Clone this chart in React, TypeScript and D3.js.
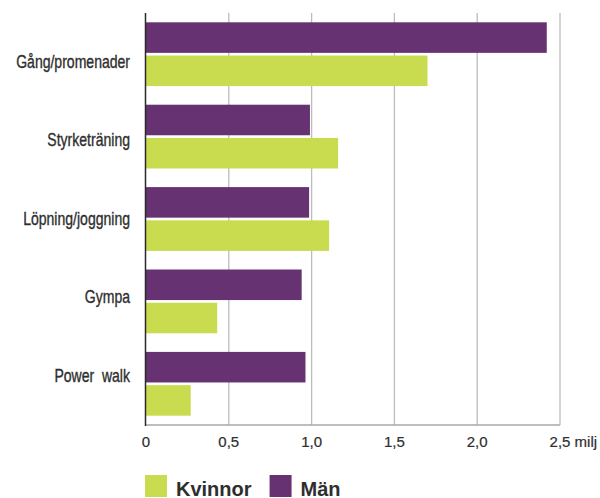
import React, { useEffect, useRef } from 'react';
import * as d3 from 'd3';

// Aktiviteter, miljoner utövare per kön
const categories = ['Gång/promenader', 'Styrketräning', 'Löpning/joggning', 'Gympa', 'Power  walk'];
const man = [2.42, 0.99, 0.985, 0.94, 0.963];
const kvinnor = [1.7, 1.16, 1.106, 0.43, 0.27];
const xTicks = [0, 0.5, 1.0, 1.5, 2.0, 2.5];
const unitLabel = 'milj';
const legendItems = ['Kvinnor', 'Män'];

const WIDTH = 600;
const HEIGHT = 498;
const LEFT = 146;
const RIGHT = 560;
const TOP = 13;
const BOTTOM = 425;

const PURPLE = '#663271';
const GREEN = '#c9dc4f';
const TEXT = '#2e2e2e';

export default function App() {
  const svgRef = useRef<SVGSVGElement>(null);

  useEffect(() => {
    const svg = d3.select(svgRef.current);
    svg.selectAll('*').remove();
    svg.append('rect').attr('width', WIDTH).attr('height', HEIGHT).attr('fill', 'white');

    const x = d3.scaleLinear().domain([0, 2.5]).range([LEFT, RIGHT]);
    const y = d3.scaleBand<string>().domain(categories).range([TOP, BOTTOM]);
    const inner = d3
      .scaleBand<string>()
      .domain(['Män', 'Kvinnor'])
      .range([0, y.bandwidth()])
      .paddingInner(0.081)
      .paddingOuter(0.28);

    // gridlines
    svg
      .append('g')
      .selectAll('line')
      .data(xTicks.slice(1))
      .enter()
      .append('line')
      .attr('x1', (d) => x(d))
      .attr('x2', (d) => x(d))
      .attr('y1', TOP)
      .attr('y2', BOTTOM)
      .attr('stroke', '#bcbcbc')
      .attr('stroke-width', 1.3);

    const rows = categories.map((c, i) => ({ c, man: man[i], kvinnor: kvinnor[i] }));

    const g = svg.append('g');
    g.selectAll('rect.man')
      .data(rows)
      .enter()
      .append('rect')
      .attr('class', 'man')
      .attr('x', x(0))
      .attr('y', (d) => (y(d.c) ?? 0) + (inner('Män') ?? 0))
      .attr('width', (d) => x(d.man) - x(0))
      .attr('height', inner.bandwidth())
      .attr('fill', PURPLE);
    g.selectAll('rect.kv')
      .data(rows)
      .enter()
      .append('rect')
      .attr('class', 'kv')
      .attr('x', x(0))
      .attr('y', (d) => (y(d.c) ?? 0) + (inner('Kvinnor') ?? 0))
      .attr('width', (d) => x(d.kvinnor) - x(0))
      .attr('height', inner.bandwidth())
      .attr('fill', GREEN);

    // bottom axis line
    svg
      .append('line')
      .attr('x1', LEFT)
      .attr('x2', RIGHT)
      .attr('y1', BOTTOM)
      .attr('y2', BOTTOM)
      .attr('stroke', '#a8a8a8')
      .attr('stroke-width', 1.5);
    // left axis line
    svg
      .append('line')
      .attr('x1', LEFT - 0.5)
      .attr('x2', LEFT - 0.5)
      .attr('y1', TOP)
      .attr('y2', BOTTOM + 1)
      .attr('stroke', '#2a2a2a')
      .attr('stroke-width', 1.5);

    // x tick labels
    const fmt = (v: number) => (v === 0 ? '0' : d3.format('.1f')(v).replace('.', ','));
    const tl = svg
      .append('g')
      .selectAll('text')
      .data(xTicks)
      .enter()
      .append('text')
      .attr('x', (d) => x(d))
      .attr('y', 447)
      .attr('text-anchor', 'middle')
      .attr('font-family', "'Liberation Sans', Arial, sans-serif")
      .attr('font-size', 15)
      .attr('fill', TEXT)
      .attr('stroke', TEXT)
      .attr('stroke-width', 0.2)
      .text(fmt);
    const last = tl.filter((d, i) => i === xTicks.length - 1);
    const lastNode = last.node() as SVGTextElement | null;
    if (lastNode) {
      const w = lastNode.getComputedTextLength();
      last
        .attr('text-anchor', 'start')
        .attr('x', x(xTicks[xTicks.length - 1]) - w / 2)
        .text(`${fmt(xTicks[xTicks.length - 1])} ${unitLabel}`);
    }

    // category labels (condensed look via horizontal scale)
    const ly = d3.scalePoint<string>().domain(categories).range([TOP + 48.5, BOTTOM - 49.5]);
    svg
      .append('g')
      .selectAll('text')
      .data(categories)
      .enter()
      .append('text')
      .attr('transform', (d) => `translate(${LEFT - 16},${ly(d) ?? 0}) scale(0.78,1)`)
      .attr('dy', '0.35em')
      .attr('text-anchor', 'end')
      .attr('font-family', "'Liberation Sans', Arial, sans-serif")
      .attr('font-size', 18)
      .attr('fill', TEXT)
      .attr('stroke', TEXT)
      .attr('stroke-width', 0.35)
      .style('white-space', 'pre')
      .text((d) => d);

    // legend
    const colors = [GREEN, PURPLE];
    let lx = LEFT - 1;
    legendItems.forEach((name, i) => {
      svg
        .append('rect')
        .attr('x', lx)
        .attr('y', 475)
        .attr('width', 22)
        .attr('height', 22)
        .attr('fill', colors[i]);
      const t = svg
        .append('text')
        .attr('x', lx + 31)
        .attr('y', 496)
        .attr('font-family', "'Liberation Sans', Arial, sans-serif")
        .attr('font-weight', 'bold')
        .attr('font-size', 20)
        .attr('fill', TEXT)
        .text(name);
      const w = (t.node() as SVGTextElement).getComputedTextLength();
      lx = lx + 31 + w + 18;
    });
  }, []);

  return (
    <svg
      ref={svgRef}
      width={WIDTH}
      height={HEIGHT}
      style={{ position: 'fixed', left: 0, top: 0, display: 'block' }}
    />
  );
}
